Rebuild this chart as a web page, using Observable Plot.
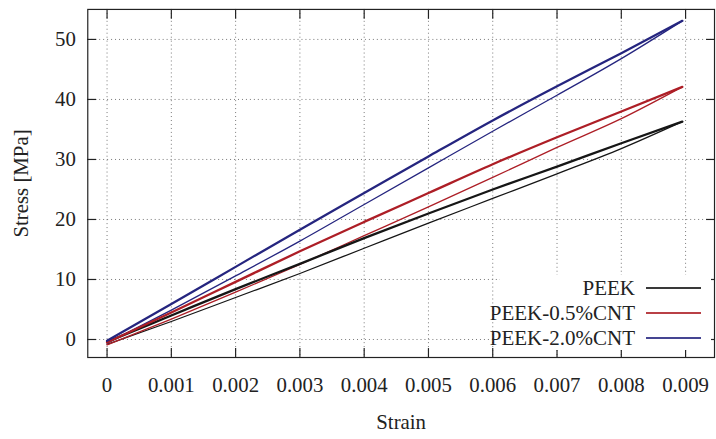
<!DOCTYPE html>
<html>
<head>
<meta charset="utf-8">
<script src="https://cdn.jsdelivr.net/npm/d3@7"></script>
<script src="https://cdn.jsdelivr.net/npm/@observablehq/plot@0.6"></script>
<style>
  html, body { margin: 0; padding: 0; overflow: hidden; background: #fff; }
  #wrap { position: relative; width: 716px; height: 439px; overflow: hidden; }
  #wrap svg, #wrap svg text { font-family: "Liberation Serif", "Times New Roman", Times, "Nimbus Roman", "DejaVu Serif", serif !important; }
  #legend { position: absolute; background: #fff; font-family: "Liberation Serif", "Times New Roman", Times, "DejaVu Serif", serif; font-size: 21px; color: #222; }
  #legend .lab { position: absolute; white-space: nowrap; line-height: 24px; text-align: right; }
  #legend .sw { position: absolute; height: 0; opacity: 0.85; }
</style>
</head>
<body>
<div id="wrap"></div>
<script>
// ---- data ----
const seriesNames = ["PEEK", "PEEK-0.5%CNT", "PEEK-2.0%CNT"];
const seriesColors = ["#161616", "#ad1e26", "#25257f"];
const strain = [0, 0.001, 0.002, 0.003, 0.004, 0.005, 0.006, 0.007, 0.008, 0.00895];
// loading branch (upper, thicker) and unloading branch (lower, thinner)
const peekLoad     = [-0.4, 4.0, 8.4, 12.6, 16.9, 21.0, 25.0, 28.8, 32.7, 36.3];
const peekUnload   = [-0.8, 3.0, 7.0, 11.0, 15.2, 19.4, 23.5, 27.6, 31.8, 36.3];
const cnt05Load    = [-0.5, 4.5, 9.6, 14.7, 19.6, 24.4, 29.2, 33.7, 38.0, 42.1];
const cnt05Unload  = [-0.9, 3.4, 7.9, 12.5, 17.3, 22.1, 27.0, 32.0, 36.8, 42.1];
const cnt20Load    = [-0.2, 5.9, 12.1, 18.3, 24.4, 30.5, 36.5, 42.2, 47.7, 53.1];
const cnt20Unload  = [-0.6, 4.9, 10.6, 16.4, 22.5, 28.6, 34.7, 40.7, 46.8, 53.1];
const xTicks = [0, 0.001, 0.002, 0.003, 0.004, 0.005, 0.006, 0.007, 0.008, 0.009];
const xTickLabels = ["0", "0.001", "0.002", "0.003", "0.004", "0.005", "0.006", "0.007", "0.008", "0.009"];
const yTicks = [0, 10, 20, 30, 40, 50];
const xDomain = [-0.0003, 0.00945];
const yDomain = [-3, 55];

// ---- tables ----
const loads = [peekLoad, cnt05Load, cnt20Load];
const unloads = [peekUnload, cnt05Unload, cnt20Unload];
const loadRows = [], unloadRows = [];
seriesNames.forEach((s, k) => {
  strain.forEach((e, i) => loadRows.push({series: s, strain: e, stress: loads[k][i]}));
  strain.forEach((e, i) => unloadRows.push({series: s, strain: e, stress: unloads[k][i]}));
});
const xLabelMap = new Map(xTicks.map((t, i) => [t, xTickLabels[i]]));

const gridStyle = {stroke: "#777", strokeOpacity: 1, strokeWidth: 1, strokeDasharray: "1,3"};

const chart = Plot.plot({
  width: 722,
  height: 439,
  marginLeft: 88,
  marginRight: 2,
  marginTop: 9,
  marginBottom: 79,
  style: {fontSize: "21px", color: "#222", background: "#fff", overflow: "visible"},
  x: {domain: xDomain},
  y: {domain: yDomain},
  color: {domain: seriesNames, range: seriesColors},
  marks: [
    Plot.gridX(xTicks, gridStyle),
    Plot.gridY(yTicks, gridStyle),
    Plot.line(unloadRows, {x: "strain", y: "stress", z: "series", stroke: "series", strokeWidth: 1.3, curve: "monotone-x"}),
    Plot.line(loadRows, {x: "strain", y: "stress", z: "series", stroke: "series", strokeWidth: 2.3, curve: "monotone-x"}),
    Plot.frame({stroke: "#222", strokeWidth: 1.2}),
    Plot.axisX(xTicks, {anchor: "bottom", tickSize: -9, tickPadding: 29, strokeWidth: 1.2,
      tickFormat: d => xLabelMap.get(d), label: "Strain", labelArrow: "none", labelAnchor: "center", labelOffset: 72}),
    Plot.axisX(xTicks, {anchor: "top", tickSize: -9, strokeWidth: 1.2, tickFormat: () => "", label: null}),
    Plot.axisY(yTicks, {anchor: "left", tickSize: -9, tickPadding: 21, strokeWidth: 1.2,
      label: "Stress [MPa]", labelArrow: "none", labelAnchor: "center", labelOffset: 75}),
    Plot.axisY(yTicks, {anchor: "right", tickSize: -9, strokeWidth: 1.2, tickFormat: () => "", label: null})
  ]
});
const wrap = document.getElementById("wrap");
wrap.appendChild(chart);

// ---- opaque key (gnuplot-style), bottom right inside the frame ----
const legend = document.createElement("div");
legend.id = "legend";
Object.assign(legend.style, {left: "500px", top: "275px", width: "211px", height: "75px"});
seriesNames.forEach((name, i) => {
  const cy = 13 + 25 * i;
  const lab = document.createElement("div");
  lab.className = "lab";
  lab.textContent = name;
  Object.assign(lab.style, {right: "76px", top: (cy - 12) + "px"});
  legend.appendChild(lab);
  const sw = document.createElement("div");
  sw.className = "sw";
  Object.assign(sw.style, {left: "146px", width: "55px", top: (cy - 1) + "px", borderTop: "2px solid " + seriesColors[i]});
  legend.appendChild(sw);
});
wrap.appendChild(legend);
</script>
</body>
</html>
